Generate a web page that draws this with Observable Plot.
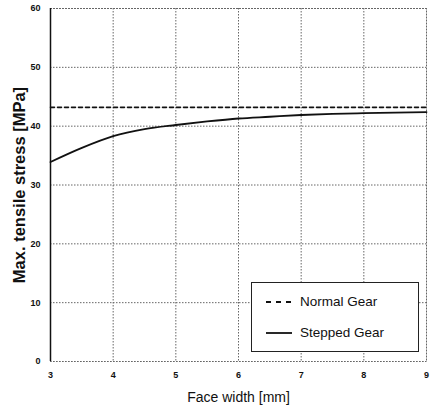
<!DOCTYPE html>
<html>
<head>
<meta charset="utf-8">
<script src="https://cdn.jsdelivr.net/npm/d3@7"></script>
<script src="https://cdn.jsdelivr.net/npm/@observablehq/plot@0.6"></script>
<style>
  html, body { margin: 0; padding: 0; background: #fff; }
  #wrap { position: relative; width: 431px; height: 411px; font-family: "Liberation Sans", Arial, sans-serif; }
  #legend { position: absolute; left: 251px; top: 282px; width: 168px; height: 70px; border: 1.5px solid #222; background: #fff; box-sizing: border-box; font-size: 13.5px; color: #111; }
  .row { position: absolute; left: 14px; display: flex; align-items: center; }
  .sw { width: 26px; height: 4px; margin-right: 8px; display: block; }
</style>
</head>
<body>
<div id="wrap"></div>
<script>
const faceWidth = [3, 3.5, 4, 4.5, 5, 5.5, 6, 6.5, 7, 7.5, 8, 8.5, 9];
const normalGear = [43.2, 43.2, 43.2, 43.2, 43.2, 43.2, 43.2, 43.2, 43.2, 43.2, 43.2, 43.2, 43.2];
const steppedGear = [33.9, 36.3, 38.3, 39.5, 40.2, 40.8, 41.3, 41.6, 41.9, 42.1, 42.2, 42.3, 42.4];
const xTicks = [3, 4, 5, 6, 7, 8, 9];
const yTicks = [0, 10, 20, 30, 40, 50, 60];

const normal = faceWidth.map((x, i) => ({x, y: normalGear[i]}));
const stepped = faceWidth.map((x, i) => ({x, y: steppedGear[i]}));

const chart = Plot.plot({
  width: 431,
  height: 411,
  marginLeft: 50,
  marginRight: 5,
  marginTop: 8,
  marginBottom: 50,
  style: {fontFamily: "Liberation Sans, Arial, sans-serif", background: "#fff"},
  x: {domain: [3, 9], ticks: xTicks, label: null},
  y: {domain: [0, 60], ticks: yTicks, label: null},
  marks: [
    Plot.gridX(xTicks, {stroke: "#666", strokeOpacity: 1, strokeDasharray: "1.5,1.5", strokeWidth: 1}),
    Plot.gridY(yTicks, {stroke: "#666", strokeOpacity: 1, strokeDasharray: "1.5,1.5", strokeWidth: 1}),
    Plot.frame({stroke: "#666", strokeDasharray: "1.5,1.5"}),
    Plot.ruleX([3], {stroke: "#111", strokeWidth: 1.5}),
    Plot.axisX({ticks: xTicks, tickFormat: "d", tickSize: 0, tickPadding: 10, fontSize: 9, fontWeight: "bold", fill: "#111", label: null}),
    Plot.axisY({ticks: yTicks, tickFormat: "d", tickSize: 0, tickPadding: 10, fontSize: 9, fontWeight: "bold", fill: "#111", label: null}),
    Plot.text(["Face width [mm]"], {frameAnchor: "bottom", dy: 40, fontSize: 14, fill: "#111", textAnchor: "middle"}),
    Plot.text(["Max. tensile stress [MPa]"], {frameAnchor: "left", dx: -31, rotate: -90, textAnchor: "middle", fontSize: 16.5, fontWeight: "bold", fill: "#111"}),
    Plot.lineY(normal, {x: "x", y: "y", stroke: "#111", strokeWidth: 1.6, strokeDasharray: "4,3"}),
    Plot.lineY(stepped, {x: "x", y: "y", stroke: "#111", strokeWidth: 1.8, curve: "monotone-x"})
  ]
});

const wrap = document.getElementById("wrap");
wrap.appendChild(chart);

const legend = document.createElement("div");
legend.id = "legend";
legend.innerHTML = `
  <div class="row" style="top:11px"><svg class="sw"><line x1="0" y1="2" x2="26" y2="2" stroke="#111" stroke-width="1.8" stroke-dasharray="5,5"/></svg><span>Normal Gear</span></div>
  <div class="row" style="top:42px"><svg class="sw"><line x1="0" y1="2" x2="26" y2="2" stroke="#111" stroke-width="1.8"/></svg><span>Stepped Gear</span></div>`;
wrap.appendChild(legend);
</script>
</body>
</html>
